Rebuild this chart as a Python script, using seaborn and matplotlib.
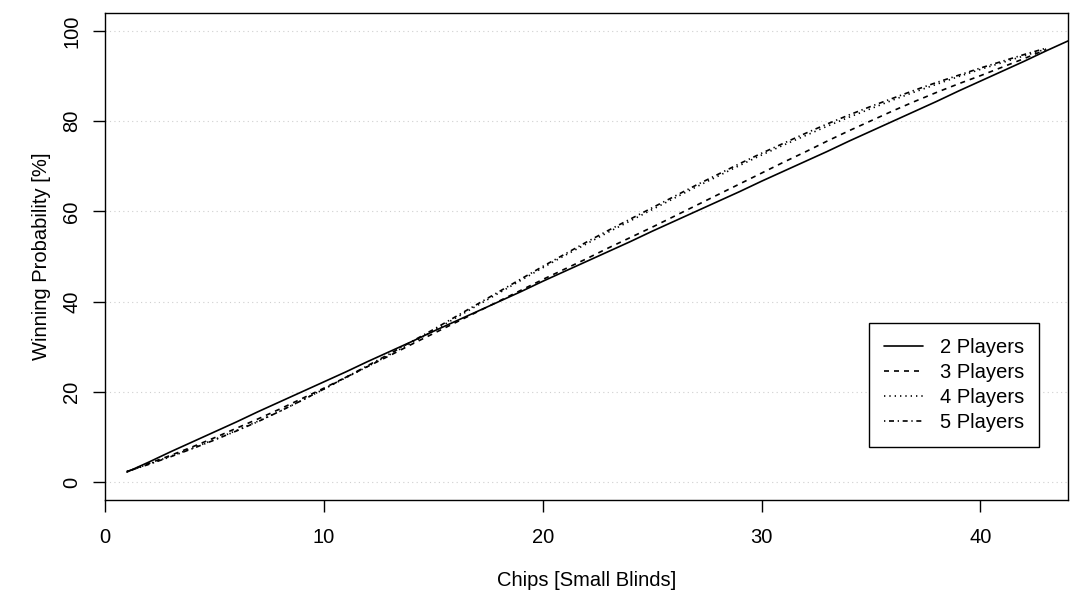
import matplotlib
matplotlib.use("Agg")
import matplotlib.pyplot as plt
import seaborn as sns
import pandas as pd
from matplotlib.lines import Line2D

# ---- data ----
chips_2 = list(range(1, 45))
win_2 = [2.2, 4.4, 6.7, 8.9, 11.1, 13.3, 15.6, 17.8, 20.0, 22.2,
         24.4, 26.7, 28.9, 31.1, 33.4, 35.6, 37.8, 40.0, 42.2, 44.5,
         46.7, 48.9, 51.1, 53.3, 55.6, 57.8, 60.0, 62.2, 64.4, 66.7,
         68.9, 71.1, 73.3, 75.6, 77.8, 80.0, 82.2, 84.4, 86.7, 88.9,
         91.1, 93.3, 95.6, 97.8]

chips_3 = list(range(1, 44))
win_3 = [2.3, 4.1, 5.9, 7.8, 9.8, 11.9, 14.0, 16.2, 18.5, 20.8,
         23.2, 25.6, 28.0, 30.5, 32.9, 35.3, 37.7, 40.1, 42.5, 44.9,
         47.2, 49.5, 51.9, 54.2, 56.5, 58.9, 61.3, 63.7, 66.1, 68.5,
         70.9, 73.2, 75.6, 77.9, 80.1, 82.3, 84.4, 86.4, 88.3, 90.1,
         92.0, 93.9, 95.9]

chips_4 = list(range(1, 44))
win_4 = [2.3, 4.0, 5.7, 7.5, 9.4, 11.4, 13.5, 15.7, 18.1, 20.6,
         23.1, 25.6, 28.2, 30.8, 33.5, 36.3, 39.1, 41.9, 44.7, 47.5,
         50.2, 52.8, 55.4, 57.9, 60.4, 62.9, 65.4, 67.8, 70.2, 72.5,
         74.7, 76.8, 78.9, 80.9, 82.8, 84.7, 86.5, 88.2, 89.9, 91.5,
         93.0, 94.5, 96.0]

chips_5 = list(range(1, 44))
win_5 = [2.3, 3.9, 5.6, 7.4, 9.3, 11.3, 13.4, 15.7, 18.1, 20.6,
         23.2, 25.8, 28.4, 31.1, 33.8, 36.6, 39.4, 42.2, 45.0, 47.8,
         50.5, 53.2, 55.8, 58.3, 60.8, 63.3, 65.8, 68.2, 70.6, 72.9,
         75.1, 77.3, 79.4, 81.4, 83.3, 85.1, 86.9, 88.6, 90.2, 91.8,
         93.3, 94.8, 96.2]

series_labels = ["2 Players", "3 Players", "4 Players", "5 Players"]
x_ticks = [0, 10, 20, 30, 40]
y_ticks = [0, 20, 40, 60, 80, 100]

frames = []
for lab, xs, ys in zip(series_labels, [chips_2, chips_3, chips_4, chips_5],
                       [win_2, win_3, win_4, win_5]):
    frames.append(pd.DataFrame({"Chips": xs, "Win": ys, "Players": lab}))
df = pd.concat(frames, ignore_index=True)

# ---- style ----
sns.set_style("white")
plt.rcParams["font.family"] = ["Liberation Sans", "DejaVu Sans"]
FS = 14.5

fig = plt.figure(figsize=(10.84, 6), dpi=100)
ax = fig.add_axes([105 / 1084, 100 / 600, 963 / 1084, 487 / 600])

dash_map = {
    "2 Players": "",
    "3 Players": (3, 3),
    "4 Players": (0.8, 2.4),
    "5 Players": (0.8, 2.2, 3, 2.2),
}

# grid
for yv in y_ticks:
    ax.axhline(yv, color="#cfcfcf", lw=0.8, ls=(0, (1, 3)), zorder=0)

sns.lineplot(data=df, x="Chips", y="Win", style="Players",
             dashes=dash_map, color="black", linewidth=1.2,
             legend=False, ax=ax, sort=False)

ax.set_xlim(0, 44)
ax.set_ylim(-4, 104)
ax.set_xticks(x_ticks)
ax.set_yticks(y_ticks)
ax.tick_params(axis="both", direction="out", length=8.5, width=1,
               color="black", labelsize=FS, labelcolor="black",
               bottom=True, left=True, top=False, right=False)
ax.tick_params(axis="x", pad=12)
ax.tick_params(axis="y", pad=8.5)
for t in ax.get_yticklabels():
    t.set_rotation(90)
    t.set_va("center")

for sp in ax.spines.values():
    sp.set_visible(True)
    sp.set_color("black")
    sp.set_linewidth(1)

ax.set_xlabel("Chips [Small Blinds]", fontsize=FS, labelpad=17, color="black")
ax.set_ylabel("Winning Probability [%]", fontsize=FS, labelpad=8, color="black")

handles = []
for lab in series_labels:
    d = dash_map[lab]
    ls = "-" if d == "" else (0, d)
    handles.append(Line2D([0], [0], color="black", lw=1.2, ls=ls))
leg = ax.legend(handles, series_labels, loc="upper right",
                bbox_to_anchor=(0.970, 0.3634), borderaxespad=0,
                fontsize=FS, frameon=True, fancybox=False,
                edgecolor="black", framealpha=1, handlelength=1.9,
                handletextpad=0.85, labelspacing=0.3, borderpad=0.75)
leg.get_frame().set_linewidth(1)
for txt in leg.get_texts():
    txt.set_color("black")

fig.savefig("out.png", dpi=100)
